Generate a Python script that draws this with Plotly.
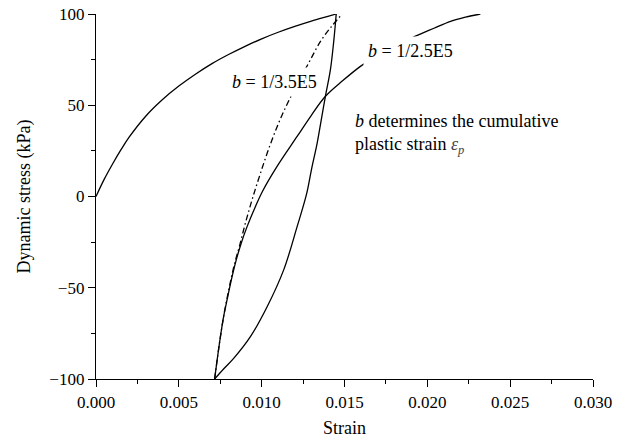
import plotly.graph_objects as go

# Initial loading curve (solid)
load_strain = [0, 0.0005, 0.001, 0.0015, 0.002, 0.003, 0.004, 0.005, 0.006, 0.007,
               0.008, 0.009, 0.010, 0.011, 0.012, 0.013, 0.014, 0.0145]
load_stress = [0, 9.5, 17.8, 25.5, 32.5, 44.0, 53.0, 60.5, 67.0, 72.8,
               77.8, 82.3, 86.4, 90.0, 93.2, 96.1, 98.7, 100]

# Unloading curve (solid)
unload_strain = [0.0145, 0.01435, 0.01415, 0.01385, 0.01355, 0.01335, 0.01300, 0.01270,
                 0.01214, 0.01133, 0.01033, 0.00932, 0.00831, 0.00770, 0.00716]
unload_stress = [100, 85, 69.5, 55, 39.5, 29.3, 14.5, 1.0,
                 -16.5, -40.2, -60.4, -76.8, -88.7, -94.5, -100]

# Reloading curve b = 1/2.5E5 (solid)
reload25_strain = [0.00716, 0.00735, 0.00751, 0.00770, 0.00791, 0.00815, 0.00841, 0.00875,
                   0.00912, 0.00960, 0.01003, 0.01093, 0.01214, 0.01300, 0.01385, 0.01490,
                   0.01596, 0.01700, 0.01820, 0.01943, 0.02040, 0.02140, 0.02230, 0.02320]
reload25_stress = [-100, -87, -76.8, -66, -56.7, -46.5, -36.6, -26,
                   -16.5, -6, 2.5, 16.5, 32.9, 44.5, 54.9, 63.5,
                   71.3, 77.5, 83.5, 88.4, 92.2, 96, 98.3, 100]

# Reloading curve b = 1/3.5E5 (dash-dot)
reload35_strain = [0.00716, 0.00735, 0.00751, 0.00769, 0.00789, 0.00812, 0.00837, 0.00868,
                   0.00902, 0.00942, 0.00990, 0.01050, 0.01120, 0.01200, 0.01284, 0.01355,
                   0.01420, 0.01486]
reload35_stress = [-100, -87, -76.8, -66.5, -56.7, -46.5, -36.6, -26.5,
                   -14.5, -1.8, 12, 28, 44, 59, 73.2, 85,
                   93, 100]

x_ticks = [0.000, 0.005, 0.010, 0.015, 0.020, 0.025, 0.030]
y_ticks = [-100, -50, 0, 50, 100]

FONT = "Liberation Serif"
LW = 1.3

fig = go.Figure()
fig.add_trace(go.Scatter(x=load_strain, y=load_stress, mode="lines",
                         line=dict(color="black", width=LW), line_shape="spline"))
fig.add_trace(go.Scatter(x=unload_strain, y=unload_stress, mode="lines",
                         line=dict(color="black", width=LW), line_shape="spline"))
fig.add_trace(go.Scatter(x=reload25_strain, y=reload25_stress, mode="lines",
                         line=dict(color="black", width=LW), line_shape="spline"))
fig.add_trace(go.Scatter(x=reload35_strain, y=reload35_stress, mode="lines",
                         line=dict(color="black", width=LW, dash="6px,3px,1.5px,3px"),
                         line_shape="spline"))

fig.add_annotation(x=0.01077, y=62.5, text="<i>b</i> = 1/3.5E5", showarrow=False,
                   font=dict(family=FONT, size=18, color="black"),
                   bgcolor="white", borderpad=4, xanchor="center", yanchor="middle")
fig.add_annotation(x=0.01898, y=79.6, text="<i>b</i> = 1/2.5E5", showarrow=False,
                   font=dict(family=FONT, size=18, color="black"),
                   bgcolor="white", borderpad=4, xanchor="center", yanchor="middle")
fig.add_annotation(x=0.01552, y=34.4,
                   text="<i>b</i> determines the cumulative<br>plastic strain <i><span style='color:#444'>ε</span></i><sub><i><span style='color:#444'>p</span></i></sub>",
                   showarrow=False, align="left",
                   font=dict(family=FONT, size=18, color="black"),
                   xanchor="left", yanchor="middle")

axis_common = dict(showline=True, linecolor="black", linewidth=LW, ticks="outside",
                   ticklen=7, tickwidth=LW, tickcolor="black", showgrid=False,
                   zeroline=False, mirror=False,
                   tickfont=dict(family=FONT, size=17, color="black"))

fig.update_xaxes(range=[0, 0.030], tickvals=x_ticks, tickformat=".3f",
                 title=dict(text="Strain", font=dict(family=FONT, size=18, color="black"),
                            standoff=10),
                 minor=dict(dtick=0.0025, ticklen=4, tickwidth=LW, tickcolor="black",
                            ticks="outside"),
                 **axis_common)
fig.update_yaxes(range=[-100, 100], tickvals=y_ticks,
                 title=dict(text="Dynamic stress (kPa)",
                            font=dict(family=FONT, size=18, color="black"), standoff=14),
                 minor=dict(dtick=25, ticklen=4, tickwidth=LW, tickcolor="black",
                            ticks="outside"),
                 **axis_common)

fig.update_layout(width=626, height=440, showlegend=False,
                  margin=dict(l=96, r=33, t=14, b=61, autoexpand=False),
                  plot_bgcolor="white", paper_bgcolor="white",
                  font=dict(family=FONT, color="black"))

fig.write_html("out.html", config={"displayModeBar": False},
               post_script="document.body.style.margin='0';document.body.style.overflow='hidden';")
